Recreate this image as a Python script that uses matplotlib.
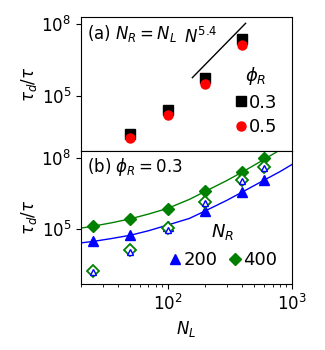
import numpy as np
import matplotlib
matplotlib.use("Agg")
import matplotlib.pyplot as plt

# ---- data ----
NL_a = [50, 100, 200, 400]
tau_phi03 = [2.4e3, 2.4e4, 5.6e5, 2.45e7]
tau_phi05 = [1.6e3, 1.5e4, 3.1e5, 1.4e7]
slope_x = [158, 424]
slope_y = [5.75e5, 1.1e8]

NL_b = [25, 50, 100, 200, 400, 600]
tau_NR200 = [3.2e4, 5.5e4, 1.4e5, 5.9e5, 3.7e6, 1.15e7]
tau_NR400 = [1.41e5, 2.7e5, 7.2e5, 3.8e6, 2.45e7, 9.3e7]
tau_NR200_open = [1.6e3, 1.1e4, 9.5e4, 1.25e6, 1.05e7, 3.8e7]
tau_NR400_open = [1.8e3, 1.26e4, 1.07e5, 1.4e6, 1.17e7, 4.2e7]

fit_x200 = [20, 25, 35, 50, 70, 100, 150, 200, 300, 400, 600, 800, 1000]
fit_NR200 = [2.63e4, 3.02e4, 3.98e4, 5.5e4, 8.5e4, 1.48e5, 2.82e5, 5.75e5,
             1.62e6, 3.63e6, 1.15e7, 2.57e7, 5.13e7]
fit_x400 = [20, 25, 35, 50, 70, 100, 150, 200, 300, 400, 600, 800, 1000]
fit_NR400 = [1.1e5, 1.32e5, 1.82e5, 2.69e5, 4.27e5, 7.41e5, 1.78e6, 3.8e6,
             1.1e7, 2.51e7, 8.5e7, 2.09e8, 4.17e8]

fig, (ax1, ax2) = plt.subplots(2, 1, figsize=(3.25, 3.5), dpi=100, sharex=True)
fig.subplots_adjust(left=0.249, right=0.898, top=0.951, bottom=0.189, hspace=0)

fs = 12
for ax in (ax1, ax2):
    ax.set_xscale('log')
    ax.set_yscale('log')
    ax.set_xlim(20, 1000)
    ax.set_ylim(5e2, 2e8)
    ax.set_yticks([1e5, 1e8])
    ax.yaxis.set_minor_locator(matplotlib.ticker.NullLocator())
    ax.tick_params(labelsize=fs)
    ax.set_ylabel(r'$\tau_d/\tau$', fontsize=fs, labelpad=2)

ax1.tick_params(axis='x', which='both', bottom=False)

# panel a
ax1.plot(slope_x, slope_y, color='black', lw=1)
ax1.plot(NL_a, tau_phi03, 's', color='black', ms=6.5, label='0.3')
ax1.plot(NL_a, tau_phi05, 'o', color='red', ms=6.5, label='0.5')
ax1.text(0.03, 0.88, r'(a) $N_R = N_L$', transform=ax1.transAxes, fontsize=fs, va='center')
ax1.text(135, 3e7, r'$N^{5.4}$', fontsize=fs, ha='left', va='center')
leg1 = ax1.legend(title=r'$\phi_R$', loc='lower right', frameon=False, fontsize=13,
                  title_fontsize=13, handletextpad=0.05, handlelength=0.8,
                  borderaxespad=0.6, labelspacing=0.35, borderpad=0.2)

# panel b
ax2.plot(fit_x200, fit_NR200, '-', color='blue', lw=1)
ax2.plot(fit_x400, fit_NR400, '-', color='green', lw=1)
ax2.plot(NL_b, tau_NR200, '^', color='blue', ms=7, label='200')
ax2.plot(NL_b, tau_NR400, 'D', color='green', ms=6.5, label='400')
ax2.plot(NL_b, tau_NR400_open, 'D', mfc='white', mec='green', mew=1.3, ms=6.5)
ax2.plot(NL_b, tau_NR200_open, '^', mfc='white', mec='blue', mew=1.0, ms=4.5)
ax2.text(0.03, 0.88, r'(b) $\phi_R = 0.3$', transform=ax2.transAxes, fontsize=fs, va='center')
leg2 = ax2.legend(title=r'$N_R$', loc='lower right', frameon=False, fontsize=13,
                  title_fontsize=13, ncol=2, handletextpad=0.05, handlelength=0.8,
                  columnspacing=0.6, borderaxespad=0.6, borderpad=0.2)
ax2.set_xlabel(r'$N_L$', fontsize=fs)

fig.savefig('out.png', dpi=100)
